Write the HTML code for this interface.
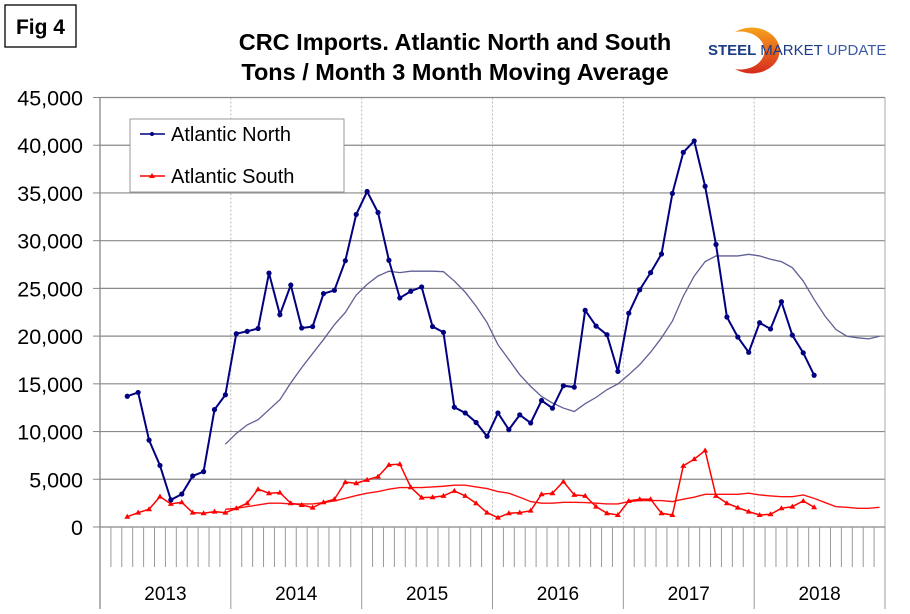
<!DOCTYPE html>
<html><head><meta charset="utf-8"><style>
body{margin:0;background:#fff;width:910px;height:609px;overflow:hidden;font-family:"Liberation Sans",Arial,sans-serif}
svg text{font-family:"Liberation Sans",Arial,sans-serif}
</style></head><body>
<svg id="chart" width="910" height="609" xmlns="http://www.w3.org/2000/svg">
<rect x="5" y="5" width="71" height="42" fill="#fff" stroke="#000" stroke-width="1.3"/>
<text x="40.5" y="34" text-anchor="middle" font-size="21" font-weight="bold">Fig 4</text>
<text x="455" y="50" text-anchor="middle" font-size="23.5" font-weight="bold">CRC Imports. Atlantic North and South</text>
<text x="455" y="80" text-anchor="middle" font-size="23.5" font-weight="bold">Tons / Month 3 Month Moving Average</text>
<g>
<defs><linearGradient id="lg" x1="0" y1="0" x2="0" y2="1"><stop offset="0" stop-color="#f7a21b"/><stop offset="1" stop-color="#d42a1e"/></linearGradient></defs>
<path d="M735 32 A28 23 0 1 1 735 69 A24 19 0 1 0 735 32 Z" fill="url(#lg)"/>
<text x="708" y="55" font-size="15" font-weight="bold" fill="#1c3c84">STEEL <tspan font-weight="normal">MARKET</tspan><tspan font-weight="normal" fill="#3a5aa4"> UPDATE</tspan></text>
</g>
<g id="grid"></g>
<g id="axes"></g>
<g id="series"></g>
<g>
<rect x="130" y="119" width="214" height="73" fill="#fff" stroke="#999" stroke-width="1"/>
<line x1="140" y1="134" x2="165" y2="134" stroke="#000080" stroke-width="1.5"/><circle cx="152" cy="134" r="2" fill="#000080"/>
<text x="171" y="141" font-size="20">Atlantic North</text>
<line x1="140" y1="176" x2="165" y2="176" stroke="#ff0000" stroke-width="1.5"/><path d="M152 173 L155 178 L149 178 Z" fill="#ff0000"/>
<text x="171" y="183" font-size="20">Atlantic South</text>
</g>
</svg>
<script>
const yTicks = [0,5000,10000,15000,20000,25000,30000,35000,40000,45000];
const years = ["2013","2014","2015","2016","2017","2018"];
const northStart = 2;
const northValues = [13700,14100,9100,6450,2840,3450,5350,5800,12300,13850,20250,20500,20800,26600,22250,25350,20850,21000,24450,24800,27900,32750,35150,32950,27950,24000,24700,25150,21000,20400,12550,11950,10950,9500,11950,10200,11750,10900,13250,12450,14800,14650,22700,21050,20150,16300,22400,24850,26650,28600,34950,39250,40450,35700,29600,22000,19900,18300,21400,20750,23600,20100,18250,15900];
const southStart = 2;
const southValues = [1080,1500,1860,3180,2420,2590,1500,1440,1610,1500,1960,2490,3960,3540,3600,2490,2310,2030,2590,2910,4700,4590,4940,5280,6510,6590,4170,3080,3120,3260,3780,3260,2490,1500,980,1440,1500,1710,3430,3540,4760,3360,3260,2130,1440,1260,2730,2910,2910,1440,1260,6410,7110,8010,3260,2490,2030,1610,1260,1330,1960,2130,2730,2070];
const trendStart = 11;
const northTrend = [8680,9800,10700,11240,12290,13340,15100,16700,18170,19640,21200,22480,24300,25420,26300,26800,26650,26800,26800,26800,26750,25770,24600,23130,21420,19100,17540,15960,14730,13680,12990,12460,12100,12920,13580,14390,14990,15960,17010,18310,19820,21570,24190,26290,27800,28400,28400,28400,28570,28400,28050,27800,27170,25770,23840,22090,20690,19990,19820,19710,19990];
const southTrend = [1860,1960,2130,2310,2490,2490,2420,2420,2420,2560,2730,3000,3290,3540,3710,3960,4130,4130,4130,4200,4270,4380,4380,4200,4030,3710,3540,3120,2660,2490,2490,2590,2590,2560,2490,2420,2420,2660,2770,2770,2770,2660,2910,3120,3430,3430,3430,3430,3540,3360,3260,3180,3180,3360,3000,2560,2130,2060,1960,1960,2060];

const NS='http://www.w3.org/2000/svg';
const L=100,R=885,T=97.5,B=527,YMAX=45000,NM=72;
const mw=(R-L)/NM;
function xPos(i){return L+(i+0.5)*mw;}
function yPos(v){return B-(v/YMAX)*(B-T);}
function mk(tag,attrs,parent){const e=document.createElementNS(NS,tag);for(const k in attrs)e.setAttribute(k,attrs[k]);parent.appendChild(e);return e;}
const grid=document.getElementById('grid'),axes=document.getElementById('axes'),series=document.getElementById('series');
for(let y=1;y<years.length;y++){
  const l=mk('line',{x1:L+y*12*mw,x2:L+y*12*mw,y1:T,y2:B,stroke:'#bbb','stroke-dasharray':'2,2','stroke-width':1},grid);
  
  
}
yTicks.forEach(v=>{
  if(v>0){const g=mk('line',{x1:L,x2:R,y1:yPos(v),y2:yPos(v),stroke:'#888','stroke-width':1.2},grid);
  
  }
  mk('line',{x1:L-7,x2:L,y1:yPos(v),y2:yPos(v),stroke:'#888','stroke-width':1},axes);
  const t=mk('text',{x:L-17,y:yPos(v)+8,'text-anchor':'end','font-size':21.5},axes);
  t.textContent=v.toLocaleString('en-US');
  
  
});
mk('line',{x1:R,x2:R,y1:T,y2:B,stroke:'#aaa','stroke-width':1},axes);
mk('line',{x1:L,x2:L,y1:T,y2:609,stroke:'#888','stroke-width':1.3},axes);
mk('line',{x1:L,x2:R,y1:B,y2:B,stroke:'#888','stroke-width':1.3},axes);
for(let i=1;i<=NM;i++){
  const x=L+i*mw;
  mk('line',{x1:x,x2:x,y1:B,y2:(i%12===0)?609:567,stroke:'#999','stroke-width':1},axes);
}
years.forEach((y,k)=>{
  const t=mk('text',{x:L+(k*12+6)*mw,y:600,'text-anchor':'middle','font-size':19},axes);
  t.textContent=y;
  
  
});
function line(vals,start,color,w,name){
  const p=mk('polyline',{points:vals.map((v,i)=>xPos(start+i)+','+yPos(v)).join(' '),fill:'none',stroke:color,'stroke-width':w},series);
  
  
}
line(northTrend,trendStart,'#5f5f95',1.3,'north-trend-line');
line(southTrend,trendStart,'#ff1010',1.4,'south-trend-line');
line(southValues,southStart,'#ff0000',1.5,'south-series-line');
southValues.forEach((v,i)=>{
  const x=xPos(southStart+i),y=yPos(v);
  const m=mk('path',{d:`M${x} ${y-3} L${x+3} ${y+2} L${x-3} ${y+2} Z`,fill:'#ff0000'},series);
  
  
});
line(northValues,northStart,'#000080',2,'north-series-line');
northValues.forEach((v,i)=>{
  const m=mk('circle',{cx:xPos(northStart+i),cy:yPos(v),r:2.6,fill:'#000080'},series);
  
  
});
</script>
</body></html>
